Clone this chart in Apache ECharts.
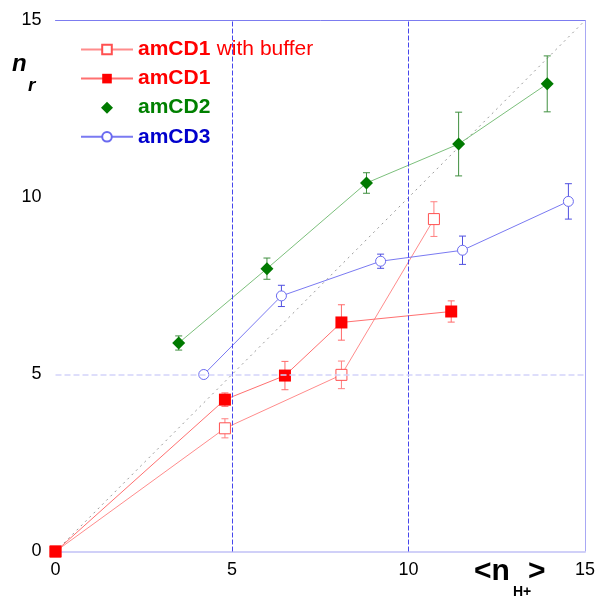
<!DOCTYPE html>
<html>
<head>
<meta charset="utf-8">
<script src="https://cdn.jsdelivr.net/npm/echarts@6/dist/echarts.min.js"></script>
<style>
    html, body {margin: 0; padding: 0; background: #fff;}
    #chart {width: 598px; height: 601px;}
</style>
</head>
<body>
<div id="chart"></div>
<script>
// values
const bufX = [0, 4.8, 8.1, 10.72];
const bufY = [0, 3.48, 4.99, 9.39];
const bufErr = [0, 0.27, 0.39, 0.49];

const cd1X = [0, 4.8, 6.5, 8.1, 11.21];
const cd1Y = [0, 4.29, 4.97, 6.47, 6.78];
const cd1Err = [0, 0.19, 0.4, 0.5, 0.3];

const cd2X = [3.49, 5.99, 8.81, 11.42, 13.93];
const cd2Y = [5.89, 7.99, 10.41, 11.51, 13.21];
const cd2Err = [0.2, 0.3, 0.29, 0.9, 0.79];

const cd3X = [4.2, 6.4, 9.21, 11.53, 14.53];
const cd3Y = [5.0, 7.22, 8.2, 8.51, 9.89];
const cd3Err = [0, 0.3, 0.2, 0.4, 0.5];

const diagonal = [[0, 0], [15, 15]];
const vLines = [5, 10];
const hLines = [5];
const axisMin = 0, axisMax = 15, axisStep = 5;

const FONT = "'Liberation Sans', Arial, sans-serif";
const DIAMOND = 'path://M0,-1L1,0L0,1L-1,0Z';

const pts = (xs, ys) => xs.map((x, i) => [x, ys[i]]);
const errPts = (xs, ys, es) => xs.map((x, i) => [x, ys[i], es[i]]);

function errRender(color) {
    return function (params, api) {
        const x = api.value(0), y = api.value(1), e = api.value(2);
        if (!e) return;
        const top = api.coord([x, y + e]);
        const bot = api.coord([x, y - e]);
        const h = 3.5;
        const st = {stroke: color, lineWidth: 1};
        return {
            type: 'group',
            children: [
                {type: 'line', shape: {x1: top[0], y1: top[1], x2: bot[0], y2: bot[1]}, style: st},
                {type: 'line', shape: {x1: top[0] - h, y1: top[1], x2: top[0] + h, y2: top[1]}, style: st},
                {type: 'line', shape: {x1: bot[0] - h, y1: bot[1], x2: bot[0] + h, y2: bot[1]}, style: st}
            ]
        };
    };
}

function errSeries(xs, ys, es, color) {
    return {
        type: 'custom',
        data: errPts(xs, ys, es),
        renderItem: errRender(color),
        encode: {x: 0, y: 1},
        z: 1,
        silent: true
    };
}

// helper series that only carries reference lines
function guideSeries(items, lineStyle) {
    return {
        type: 'line',
        data: [],
        silent: true,
        z: 0,
        markLine: {
            symbol: 'none',
            silent: true,
            label: {show: false},
            lineStyle: lineStyle,
            data: items
        }
    };
}

const legendRich = {
    r: {color: '#ff0000', fontWeight: 'bold', fontSize: 21, fontFamily: FONT, lineHeight: 24},
    rn: {color: '#ff0000', fontWeight: 'normal', fontSize: 21, fontFamily: FONT, lineHeight: 24, padding: [0, 0, 0, 3]},
    g: {color: '#008000', fontWeight: 'bold', fontSize: 21, fontFamily: FONT, lineHeight: 24},
    b: {color: '#0000cc', fontWeight: 'bold', fontSize: 21, fontFamily: FONT, lineHeight: 24}
};

const option = {
    animation: false,
    backgroundColor: '#fff',
    grid: {left: 55.5, right: 11.5, top: 20.5, bottom: 49.5},
    legend: {
        orient: 'vertical',
        left: 75,
        top: 34,
        itemWidth: 52,
        itemHeight: 12,
        itemGap: 8.1,
        selectedMode: false,
        data: [
            {name: 'amCD1 with buffer'},
            {name: 'amCD1'},
            {name: 'amCD2', icon: DIAMOND},
            {name: 'amCD3'}
        ],
        formatter: function (name) {
            if (name === 'amCD1 with buffer') return '{r|amCD1} {rn|with buffer}';
            if (name === 'amCD1') return '{r|amCD1}';
            if (name === 'amCD2') return '{g|amCD2}';
            return '{b|amCD3}';
        },
        textStyle: {rich: legendRich}
    },
    xAxis: [{
        type: 'value', min: axisMin, max: axisMax, interval: axisStep,
        axisLine: {show: true, onZero: false, lineStyle: {color: '#d0d0f8', width: 2}},
        axisTick: {show: false},
        splitLine: {show: false},
        axisLabel: {color: '#000', fontSize: 18, fontFamily: FONT, margin: 10}
    }, {
        type: 'value', min: axisMin, max: axisMax, position: 'top',
        axisLine: {show: true, onZero: false, lineStyle: {color: '#7c7cf0', width: 1}},
        axisTick: {show: false}, axisLabel: {show: false}, splitLine: {show: false}
    }],
    yAxis: [{
        type: 'value', min: axisMin, max: axisMax, interval: axisStep,
        axisLine: {show: false, onZero: false},
        axisTick: {show: false},
        splitLine: {show: false},
        axisLabel: {color: '#000', fontSize: 18, fontFamily: FONT, margin: 14}
    }, {
        type: 'value', min: axisMin, max: axisMax, position: 'right',
        axisLine: {show: true, onZero: false, lineStyle: {color: '#a8a8f4', width: 1}},
        axisTick: {show: false}, axisLabel: {show: false}, splitLine: {show: false}
    }],
    series: [
        guideSeries(vLines.map(v => ({xAxis: v})), {color: '#4646ec', width: 1, type: [5, 2]}),
        guideSeries(hLines.map(v => ({yAxis: v})), {color: '#d4d4fa', width: 1.5, type: [6, 3]}),
        {
            name: 'diagonal',
            type: 'line',
            data: diagonal,
            symbol: 'none',
            silent: true,
            z: 0,
            lineStyle: {color: '#9a9a9a', width: 1, type: [2, 4]}
        },
        errSeries(bufX, bufY, bufErr, '#ff8080'),
        errSeries(cd1X, cd1Y, cd1Err, '#ff6a6a'),
        errSeries(cd2X, cd2Y, cd2Err, '#3f8f3f'),
        errSeries(cd3X, cd3Y, cd3Err, '#5050e0'),
        {
            name: 'amCD1 with buffer',
            type: 'line',
            data: pts(bufX, bufY),
            symbol: 'rect',
            symbolSize: 11,
            z: 3,
            lineStyle: {color: '#ff8c8c', width: 1},
            itemStyle: {color: '#fff', borderColor: '#ff5050', borderWidth: 1}
        },
        {
            name: 'amCD1',
            type: 'line',
            data: pts(cd1X, cd1Y),
            symbol: 'rect',
            symbolSize: 12,
            z: 4,
            lineStyle: {color: '#ff7070', width: 1},
            itemStyle: {color: '#ff0000'}
        },
        {
            name: 'amCD2',
            type: 'line',
            data: pts(cd2X, cd2Y),
            symbol: 'diamond',
            symbolSize: 13,
            z: 3,
            lineStyle: {color: '#7cc07c', width: 1},
            itemStyle: {color: '#007a00'}
        },
        {
            name: 'amCD3',
            type: 'line',
            data: pts(cd3X, cd3Y),
            symbol: 'circle',
            symbolSize: 10,
            z: 3,
            lineStyle: {color: '#7a7af2', width: 1},
            itemStyle: {color: '#fff', borderColor: '#6a6af0', borderWidth: 1}
        }
    ],
    graphic: [
        {type: 'text', left: 12, top: 52, style: {text: 'n', font: 'italic bold 24px ' + FONT, fill: '#000'}},
        {type: 'text', left: 28, top: 76, style: {text: 'r', font: 'italic bold 19px ' + FONT, fill: '#000'}},
        {type: 'text', left: 474, top: 557, style: {text: '<n', font: 'bold 30px ' + FONT, fill: '#000'}},
        {type: 'text', left: 513, top: 585, style: {text: 'H+', font: 'bold 14px ' + FONT, fill: '#000'}},
        {type: 'text', left: 528, top: 557, style: {text: '>', font: 'bold 30px ' + FONT, fill: '#000'}}
    ]
};

const myChart = echarts.init(document.getElementById('chart'));
myChart.setOption(option);
</script>
</body>
</html>
